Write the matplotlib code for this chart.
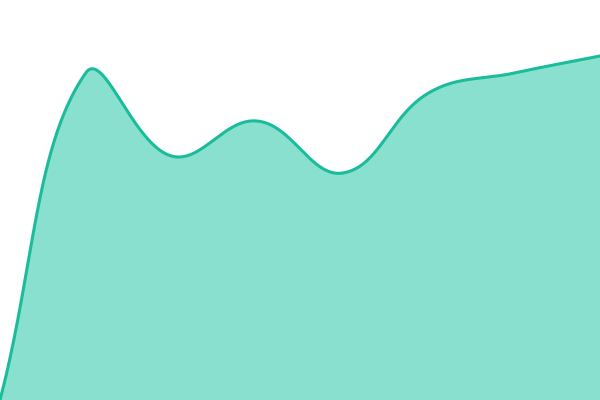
import numpy as np
import matplotlib
matplotlib.use("Agg")
import matplotlib.pyplot as plt

x_vals = [0, 1, 2, 3, 4, 5, 6, 7]
y_vals = [0, 327, 244, 279, 227, 307, 327, 344]

W, H = 600, 400
X_MAX, Y_MAX = 7, 400

def spline_path(xs, ys, tension=0.4, n=60):
    # Chart.js-style spline, computed in pixel space
    px = np.asarray(xs, float) / X_MAX * W
    py = (1 - np.asarray(ys, float) / Y_MAX) * H
    pts = np.stack([px, py], axis=1)
    N = len(pts)
    cp_prev = pts.copy(); cp_next = pts.copy()
    for i in range(N):
        p0 = pts[max(i - 1, 0)]; p1 = pts[i]; p2 = pts[min(i + 1, N - 1)]
        d01 = np.hypot(*(p1 - p0)); d12 = np.hypot(*(p2 - p1))
        tot = d01 + d12
        s01 = d01 / tot if tot else 0; s12 = d12 / tot if tot else 0
        fa = tension * s01; fb = tension * s12
        cp_prev[i] = p1 - fa * (p2 - p0)
        cp_next[i] = p1 + fb * (p2 - p0)
    cp_prev[:, 0] = np.clip(cp_prev[:, 0], 0, W); cp_prev[:, 1] = np.clip(cp_prev[:, 1], 0, H)
    cp_next[:, 0] = np.clip(cp_next[:, 0], 0, W); cp_next[:, 1] = np.clip(cp_next[:, 1], 0, H)
    out = []
    for i in range(N - 1):
        t = np.linspace(0, 1, n, endpoint=(i == N - 2))[:, None]
        b = ((1 - t) ** 3) * pts[i] + 3 * ((1 - t) ** 2) * t * cp_next[i] \
            + 3 * (1 - t) * t ** 2 * cp_prev[i + 1] + t ** 3 * pts[i + 1]
        out.append(b)
    out = np.concatenate(out)
    return out[:, 0] / W * X_MAX, (1 - out[:, 1] / H) * Y_MAX

sx, sy = spline_path(x_vals, y_vals)

fig = plt.figure(figsize=(6, 4), dpi=100)
ax = fig.add_axes([0, 0, 1, 1])
ax.fill_between(sx, 0, sy, color="#89e0cf", linewidth=0)
ax.plot(sx, sy, color="#1abc9c", linewidth=2.2, solid_capstyle="round")
ax.set_xlim(0, X_MAX)
ax.set_ylim(0, Y_MAX)
ax.axis("off")
fig.savefig("out.png", dpi=100)
